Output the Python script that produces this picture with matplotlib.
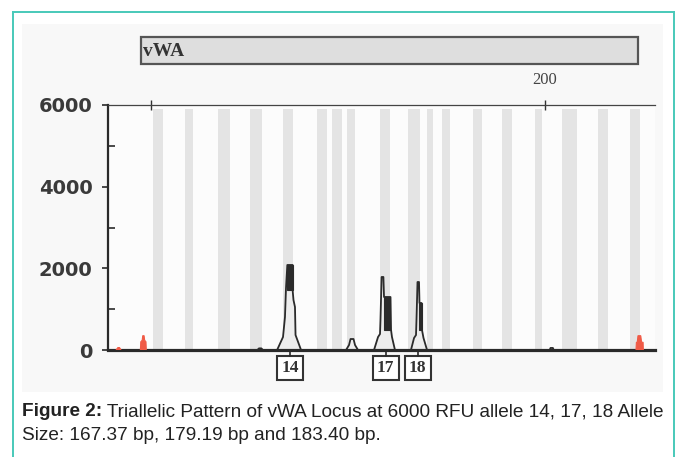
import matplotlib
matplotlib.use("Agg")
import matplotlib.pyplot as plt
from matplotlib.patches import Rectangle
from matplotlib.lines import Line2D
from matplotlib.transforms import blended_transform_factory

# bins (bp) shown as grey bands
bin_start = [150.25, 154.31, 158.50, 162.56, 166.75, 171.07, 172.97, 174.87, 179.06,
             182.61, 185.03, 186.93, 190.86, 194.54, 198.73, 202.16, 206.73, 210.79]
bin_end = [151.52, 155.33, 160.03, 164.09, 168.02, 172.34, 174.24, 175.89, 180.33,
           184.14, 185.79, 187.94, 192.01, 195.81, 199.62, 204.06, 208.00, 212.06]

# black dye trace (bp, RFU)
trace_bp = [144.5, 163.5, 163.7, 164.0, 164.2,
            166.0, 166.75, 167.0, 167.13, 167.3, 167.97, 167.97, 168.08, 168.27, 168.34, 169.04,
            174.75, 175.13, 175.32, 175.70, 175.89, 176.27,
            178.30, 178.81, 179.06, 179.12, 179.22, 179.26, 179.49, 179.57, 180.39, 180.46, 180.58, 180.96,
            182.99, 183.38, 183.63, 183.69, 183.76, 183.82, 184.01, 184.07, 184.33, 184.39, 184.58, 185.03,
            200.6, 200.7, 201.0, 201.1, 214.0]
trace_rfu = [0, 0, 40, 40, 0,
             0, 318, 808, 1518, 2082, 2082, 1469, 1224, 1053, 367, 0,
             0, 122, 269, 269, 122, 0,
             0, 318, 392, 735, 1469, 1788, 1788, 1298, 1298, 490, 318, 0,
             0, 294, 367, 735, 1224, 1665, 1665, 1151, 1151, 490, 294, 0,
             0, 50, 50, 0, 0]

# saturated (solid) parts of the black trace
solid_bp0 = [167.30, 179.57, 184.07]
solid_bp1 = [167.97, 180.39, 184.33]
solid_lo = [1469, 490, 490]
solid_hi = [2082, 1298, 1151]

# red size-standard trace
red_bp = [[145.56, 145.8, 146.0, 146.19],
          [148.65, 148.70, 148.88, 148.95, 149.12, 149.19, 149.36, 149.40],
          [211.55, 211.6, 211.71, 211.8, 212.15, 212.26, 212.45, 212.48]]
red_rfu = [[0, 60, 60, 0],
           [0, 200, 240, 350, 350, 240, 200, 0],
           [0, 190, 190, 350, 350, 190, 190, 0]]

# allele calls
allele_names = ["14", "17", "18"]
allele_bp = [167.64, 179.76, 183.82]

yticks = [0, 2000, 4000, 6000]
caption_bold = "Figure 2:"
caption_1 = " Triallelic Pattern of vWA Locus at 6000 RFU allele 14, 17, 18 Allele"
caption_2 = "Size: 167.37 bp, 179.19 bp and 183.40 bp."

W, H = 682, 457
fig = plt.figure(figsize=(W / 100, H / 100), dpi=100)
fig.patch.set_facecolor("white")

# scanned area and teal frame
fig.patches.append(Rectangle((22 / W, 1 - 392 / H), (663 - 22) / W, (392 - 24) / H,
                             transform=fig.transFigure, facecolor="#f8f8f8", edgecolor="none", zorder=-1))
teal = "#48c9b9"
for xs, ys in [([13, 13], [12, 470]), ([674, 674], [12, 470]), ([13, 674], [12, 12])]:
    fig.add_artist(Line2D([x / W for x in xs], [1 - y / H for y in ys],
                          transform=fig.transFigure, color=teal, lw=1.4))

ax = fig.add_axes([108 / W, 1 - 350 / H, (655 - 108) / W, (350 - 105) / H])
ax.set_zorder(1)
ax.set_facecolor("#fcfcfc")
ax.set_xlim(144.54, 213.96)
ax.set_ylim(0, 6000)

for s, e in zip(bin_start, bin_end):
    ax.axvspan(s, e, ymin=0, ymax=0.985, color="#e4e4e4", lw=0, zorder=0)

ax.fill(trace_bp, trace_rfu, facecolor="#ededed", edgecolor="none", zorder=2)
ax.plot(trace_bp, trace_rfu, color="#2b2b2b", lw=1.3, zorder=3)
for b0, b1, lo, hi in zip(solid_bp0, solid_bp1, solid_lo, solid_hi):
    ax.fill([b0, b1, b1, b0], [lo, lo, hi, hi], color="#2b2b2b", lw=0.8, zorder=3)
for xs, ys in zip(red_bp, red_rfu):
    ax.fill(xs, ys, color="#f05a46", lw=0.8, zorder=3)

# spines
ax.spines["right"].set_visible(False)
ax.spines["left"].set_linewidth(1.6)
ax.spines["left"].set_color("#2a2a2a")
ax.spines["bottom"].set_linewidth(2.3)
ax.spines["bottom"].set_color("#2a2a2a")
ax.spines["top"].set_linewidth(0.9)
ax.spines["top"].set_color("#444444")

ax.set_yticks(yticks)
ax.set_yticklabels([str(v) for v in yticks], fontsize=14, fontweight="bold",
                   color="#3a3a3a", family="DejaVu Sans")
ax.set_yticks([1000, 3000, 5000], minor=True)
ax.tick_params(axis="y", which="major", direction="out", length=4, width=1.2, pad=7, color="#2a2a2a")
ax.tick_params(axis="y", which="minor", direction="in", length=5, width=1.2, color="#2a2a2a")

ax.xaxis.set_ticks_position("top")
ax.set_xticks([150, 200])
ax.set_xticklabels(["", "200"], fontsize=12, family="Liberation Serif", color="#444444")
ax.tick_params(axis="x", which="major", direction="inout", length=7, width=1.0, pad=9, color="#333333")

# allele label boxes
trans = blended_transform_factory(ax.transData, ax.transAxes)
for name, b in zip(allele_names, allele_bp):
    ax.add_line(Line2D([b, b], [0, -0.0245], transform=trans, color="#2a2a2a", lw=1.2, clip_on=False))
    ax.add_patch(Rectangle((b - 1.65, -0.122), 3.3, 0.0975, transform=trans, clip_on=False,
                           facecolor="white", edgecolor="#333333", lw=1.5))
    ax.text(b, -0.075, name, transform=trans, ha="center", va="center", fontsize=12.5,
            fontweight="bold", family="Liberation Serif", color="#333333")

# locus bar
fig.patches.append(Rectangle((141 / W, 1 - 64 / H), (638 - 141) / W, (64 - 37) / H,
                             transform=fig.transFigure, facecolor="#dedede", edgecolor="#555555",
                             lw=1.6, zorder=2))
fig.text(143 / W, 1 - 51 / H, "vWA", fontsize=14, fontweight="bold", family="Liberation Serif",
         color="#333333", va="center", ha="left")

# caption
t1 = fig.text(22 / W, 1 - 412 / H, caption_bold, fontsize=13.7, fontweight="bold",
              family="Liberation Sans", color="#222222", va="center", ha="left")
ax.annotate(caption_1, xy=(1, 0), xycoords=t1, va="bottom", ha="left", fontsize=13.7,
            family="Liberation Sans", color="#222222", annotation_clip=False)
fig.text(22 / W, 1 - 436 / H, caption_2, fontsize=13.7, family="Liberation Sans",
         color="#222222", va="center", ha="left")

fig.savefig("out.png", dpi=100)
